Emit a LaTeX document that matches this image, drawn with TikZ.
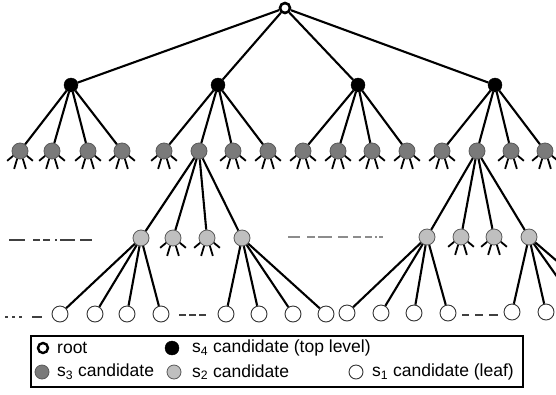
\documentclass[tikz,border=0pt]{standalone}
\usepackage{fontspec}
\setmainfont{Liberation Sans}
\begin{document}
\begin{tikzpicture}[x=1pt,y=-1pt,
  edge/.style={line width=2.1pt,black},
  rootn/.style={circle,draw=black,fill=white,line width=2.6pt,minimum size=10pt,inner sep=0pt},
  topn/.style={circle,draw=black,fill=black,minimum size=14pt,inner sep=0pt},
  sthree/.style={circle,draw=black!65,fill=black!52,line width=0.8pt,minimum size=16pt,inner sep=0pt},
  stwo/.style={circle,draw=black!65,fill=black!25,line width=0.8pt,minimum size=16pt,inner sep=0pt},
  sone/.style={circle,draw=black!80,fill=white,line width=0.9pt,minimum size=16pt,inner sep=0pt},
  leg/.style={line width=1.8pt,black},
  dsh/.style={line width=1.1pt,black!75},
  gdsh/.style={line width=1.4pt,black!45},
  lbl/.style={anchor=west,inner sep=0pt,font=\fontsize{17.5}{20}\selectfont},
  boxn/.style={draw=black,line width=2pt,fill=white}
]
\useasboundingbox (0,0) rectangle (556,394);
\clip (0,0) rectangle (556,394);
% root and top level
\node[rootn] (r) at (285,8) {};
\foreach \i/\x in {1/71,2/218,3/358,4/495} \node[topn] (b\i) at (\x,85) {};
% s3 level
\foreach \i/\xa/\xb/\xc/\xd in {1/20/52/88/122,2/164/199/233/268,3/303/338/372/407,4/442/477/511/545}{
  \node[sthree] (c\i1) at (\xa,151) {};
  \node[sthree] (c\i2) at (\xb,151) {};
  \node[sthree] (c\i3) at (\xc,151) {};
  \node[sthree] (c\i4) at (\xd,151) {};
}
% s2 level
\foreach \i/\x in {1/141,2/173,3/207,4/242} \node[stwo] (d\i) at (\x,238) {};
\foreach \i/\x in {1/427,2/461,3/494,4/529} \node[stwo] (e\i) at (\x,237) {};
% leaves
\foreach \i/\x in {1/60,2/95,3/127,4/161} \node[sone] (f\i) at (\x,314) {};
\foreach \i/\x in {1/226,2/259,3/293,4/326} \node[sone] (g\i) at (\x,314) {};
\foreach \i/\x in {1/347,2/381,3/414,4/448} \node[sone] (h\i) at (\x,313) {};
\foreach \i/\x in {1/512,2/546,3/582,4/616} \node[sone] (k\i) at (\x,312) {};
% edges
\foreach \i in {1,...,4} \draw[edge] (r) -- (b\i);
\foreach \i in {1,...,4} \foreach \j in {1,...,4} \draw[edge] (b\i) -- (c\i\j);
\foreach \j in {1,...,4} \draw[edge] (c22) -- (d\j);
\foreach \j in {1,...,4} \draw[edge] (c42) -- (e\j);
\foreach \j in {1,...,4} \draw[edge] (d1) -- (f\j);
\foreach \j in {1,...,4} \draw[edge] (d4) -- (g\j);
\foreach \j in {1,...,4} \draw[edge] (e1) -- (h\j);
\foreach \j in {1,...,4} \draw[edge] (e4) -- (k\j);
% legs of unexpanded nodes
\foreach \n in {c11,c12,c13,c14,c21,c23,c24,c31,c32,c33,c34,c41,c43,c44,d2,d3,e2,e3}{
  \draw[leg] (\n.215) -- ++(-6,5);
  \draw[leg] (\n.250) -- ++(-3,10);
  \draw[leg] (\n.290) -- ++(3,10);
  \draw[leg] (\n.325) -- ++(6,5);
}
% dashed fragments
\foreach \a/\b in {9/25,33/40,43/50,55/57,60/75,80/92} \draw[dsh] (\a,240) -- (\b,240);
\foreach \a/\b in {288/300,307/315,318/332,338/348,353/361,365/372,375/377,379/383} \draw[gdsh] (\a,237) -- (\b,237);
\foreach \a/\b in {5/8,12/15,19/22,32/42} \draw[dsh] (\a,317) -- (\b,317);
\foreach \a/\b in {179/186,189/196,199/206} \draw[dsh] (\a,315) -- (\b,315);
\foreach \a/\b in {462/469,475/483,489/498} \draw[dsh] (\a,315) -- (\b,315);
% legend
\node[boxn,minimum width=492pt,minimum height=51pt,inner sep=0pt] (lg) at (277,361.5) {};
\node[rootn,minimum size=10pt,line width=2.4pt] (l1) at (43,348) {};
\node[lbl] (t1) at (57,348) {root};
\node[topn] (l2) at (172,348) {};
\node[lbl] (t2) at (192,348) {s\textsubscript{4} candidate (top level)};
\node[sthree,minimum size=14pt] (l3) at (42,372) {};
\node[lbl] (t3) at (57,372) {s\textsubscript{3} candidate};
\node[stwo,minimum size=14pt] (l4) at (174,372) {};
\node[lbl] (t4) at (192,372) {s\textsubscript{2} candidate};
\node[sone,minimum size=14pt] (l5) at (356,372) {};
\node[lbl] (t5) at (372,372) {s\textsubscript{1} candidate (leaf)};
\end{tikzpicture}
\end{document}
